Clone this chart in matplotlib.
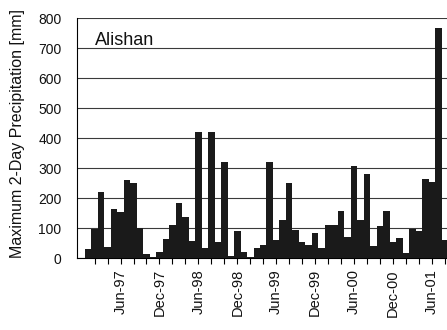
import matplotlib
matplotlib.use("Agg")
import matplotlib.pyplot as plt

plt.rcParams['font.family'] = ['Liberation Sans', 'DejaVu Sans']

# monthly maximum 2-day precipitation, Jan-97 .. Aug-01 (mm)
months = ['Jan', 'Feb', 'Mar', 'Apr', 'May', 'Jun',
          'Jul', 'Aug', 'Sep', 'Oct', 'Nov', 'Dec']
years = ['97', '98', '99', '00', '01']
precip_97 = [31, 97, 220, 37, 165, 155, 260, 250, 100, 12, 3, 20]
precip_98 = [65, 110, 183, 138, 58, 420, 35, 420, 54, 320, 6, 90]
precip_99 = [20, 4, 33, 44, 320, 60, 127, 249, 92, 55, 45, 82]
precip_00 = [35, 110, 110, 157, 70, 308, 127, 280, 40, 107, 157, 55]
precip_01 = [68, 16, 96, 90, 264, 253, 767, 60]

precip = precip_97 + precip_98 + precip_99 + precip_00 + precip_01
labels = [m + '-' + y for y in years for m in months][:len(precip)]
station = 'Alishan'

fig = plt.figure(figsize=(4.47, 3.30), dpi=100)
ax = fig.add_axes([0.172, 0.218, 0.828, 0.727])

x = list(range(len(precip)))
ax.bar(x, precip, width=1.0, color='#1a1a1a', zorder=3)

ax.set_ylim(0, 800)
ax.set_xlim(-1.73, 55.33)
ax.set_yticks(range(0, 801, 100))
ax.yaxis.grid(True, color='#3a3a3a', linewidth=0.8, zorder=0)
ax.tick_params(axis='y', length=0, pad=11, labelsize=10, colors='#111111')

# labelled ticks every 6 months (Jun / Dec), plain ticks every 2 months
major = [i for i in x if labels[i][:3] in ('Jun', 'Dec')]
minor = [i for i in x if i % 2 == 1 and i not in major]
ax.set_xticks(major)
ax.set_xticklabels([labels[i] for i in major], rotation=90, fontsize=10.5,
                   color='#111111')
ax.set_xticks(minor, minor=True)
ax.tick_params(axis='x', which='both', direction='out', length=4,
               width=0.8, pad=4)

for s in ('top', 'right'):
    ax.spines[s].set_visible(False)
ax.spines['left'].set_linewidth(0.8)
ax.spines['bottom'].set_linewidth(0.8)

ax.set_ylabel('Maximum 2-Day Precipitation [mm]', fontsize=11.5,
              color='#111111')
ax.yaxis.set_label_coords(-0.14, 0.52)
ax.text(0.05, 0.905, station, transform=ax.transAxes, fontsize=13,
        color='#111111', va='center', ha='left')

fig.savefig('out.png', dpi=100)
